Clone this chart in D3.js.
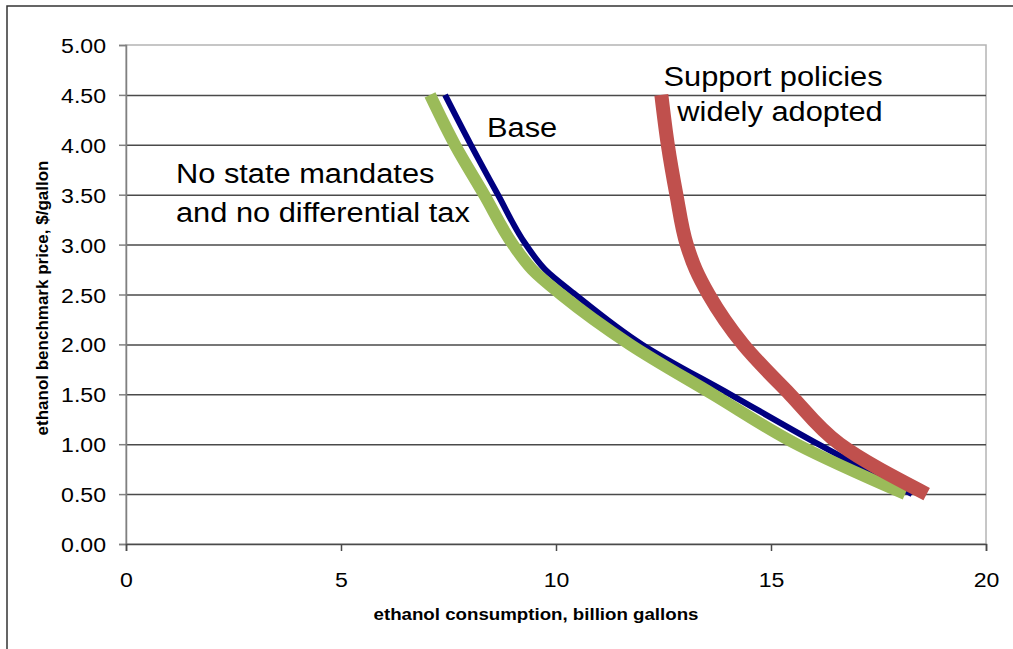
<!DOCTYPE html>
<html>
<head>
<meta charset="utf-8">
<script src="https://cdn.jsdelivr.net/npm/d3@7"></script>
<style>
  body { margin: 0; background: #fff; }
  text { font-family: Arial, "Liberation Sans", sans-serif; fill: #000; }
</style>
</head>
<body>
<script>
// price points ($/gallon) shared by every curve
const prices = [4.5, 4.0, 3.5, 3.0, 2.75, 2.5, 2.0, 1.5, 1.0, 0.5];
// consumption (billion gallons) at those prices
const baseQty = [7.42, 8.02, 8.65, 9.3, 9.75, 10.45, 12.0, 14.05, 16.1, 18.28];
const noMandateQty = [7.07, 7.65, 8.33, 9.0, 9.45, 10.12, 11.72, 13.65, 15.6, 18.12];
const supportQty = [12.45, 12.6, 12.8, 13.04, 13.25, 13.55, 14.35, 15.44, 16.6, 18.62];

const yTicks = [0, 0.5, 1, 1.5, 2, 2.5, 3, 3.5, 4, 4.5, 5];
const xTicks = [0, 5, 10, 15, 20];

const W = 1013, H = 649;
const m = {left: 126, right: 986, top: 45, bottom: 544};
const stretch = 1.1;

const svg = d3.select("body").append("svg")
  .attr("width", W)
  .attr("height", H);

// outer frame (right/bottom run off the picture)
svg.append("rect")
  .attr("x", 7).attr("y", 6)
  .attr("width", W + 20).attr("height", H + 20)
  .attr("fill", "#fff")
  .attr("stroke", "#333")
  .attr("stroke-width", 1.5);

const x = d3.scaleLinear().domain([0, 20]).range([m.left, m.right]);
const y = d3.scaleLinear().domain([0, 5]).range([m.bottom, m.top]);

// plot area border
svg.append("rect")
  .attr("x", m.left).attr("y", m.top)
  .attr("width", m.right - m.left).attr("height", m.bottom - m.top)
  .attr("fill", "none")
  .attr("stroke", "#b4b4b4")
  .attr("stroke-width", 1.5);

// gridlines
svg.append("g")
  .attr("transform", "translate(" + m.left + ",0)")
  .call(d3.axisLeft(y).tickValues(yTicks.filter(d => d > 0 && d < 5)).tickSize(-(m.right - m.left)).tickFormat(""))
  .call(g => g.select(".domain").remove())
  .call(g => g.selectAll("line").attr("stroke", "#4a4a4a").attr("stroke-width", 1.5));

// y axis
const yAxis = svg.append("g")
  .attr("transform", "translate(" + m.left + ",0)")
  .call(d3.axisLeft(y).tickValues(yTicks).tickSize(7).tickFormat(d3.format(".2f")));
yAxis.select(".domain").attr("stroke", "#808080").attr("stroke-width", 1.5);
yAxis.selectAll("line").attr("stroke", "#808080").attr("stroke-width", 1.5);
yAxis.selectAll(".tick text")
  .attr("font-size", 21)
  .attr("font-family", "Arial, 'Liberation Sans', sans-serif")
  .attr("fill", "#222")
  .attr("x", 0)
  .attr("dy", "0.36em")
  .attr("transform", "translate(-20,0) scale(" + stretch + ",1)");

// x axis
const xAxis = svg.append("g")
  .attr("transform", "translate(0," + m.bottom + ")")
  .call(d3.axisBottom(x).tickValues(xTicks).tickSize(7).tickFormat(d3.format("d")));
xAxis.select(".domain").attr("stroke", "#4a4a4a").attr("stroke-width", 1.5);
xAxis.selectAll("line").attr("stroke", "#4a4a4a").attr("stroke-width", 1.5);
xAxis.selectAll(".tick text")
  .attr("font-size", 21)
  .attr("font-family", "Arial, 'Liberation Sans', sans-serif")
  .attr("fill", "#222")
  .attr("y", 0)
  .attr("dy", 0)
  .attr("transform", "translate(0,43) scale(" + stretch + ",1)");

// curves
const series = [
  {qty: baseQty, color: "#000080", width: 6},
  {qty: noMandateQty, color: "#9bbb59", width: 12},
  {qty: supportQty, color: "#c0504d", width: 14}
];

const line = d3.line()
  .x(d => x(d[0]))
  .y(d => y(d[1]))
  .curve(d3.curveMonotoneY);

series.forEach(s => {
  // ordered from high price to low so screen y increases
  const pts = prices.map((p, i) => [s.qty[i], p]);
  svg.append("path")
    .datum(pts)
    .attr("fill", "none")
    .attr("stroke", s.color)
    .attr("stroke-width", s.width)
    .attr("stroke-linejoin", "round")
    .attr("stroke-linecap", "butt")
    .attr("d", line);
});

// labels
function label(txt, px, py, anchor, size, weight) {
  svg.append("text")
    .attr("transform", "translate(" + px + "," + py + ") scale(" + stretch + ",1)")
    .attr("text-anchor", anchor)
    .attr("font-size", size)
    .attr("font-weight", weight || "normal")
    .text(txt);
}

label("Support policies", 773, 86, "middle", 28);
label("widely adopted", 780, 121, "middle", 28);
label("Base", 487, 137, "start", 28);
label("No state mandates", 176, 183, "start", 28);
label("and no differential tax", 176, 222, "start", 28);

label("ethanol consumption,  billion gallons", 536, 620, "middle", 17, "bold");

svg.append("text")
  .attr("transform", "translate(48,298) rotate(-90)")
  .attr("text-anchor", "middle")
  .attr("font-size", 17)
  .attr("font-weight", "bold")
  .text("ethanol benchmark price,  $/gallon");
</script>
</body>
</html>
